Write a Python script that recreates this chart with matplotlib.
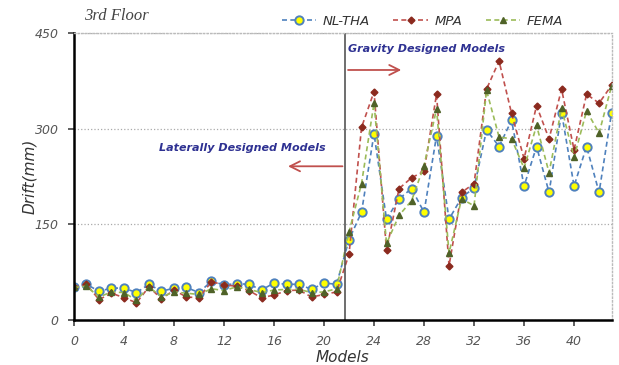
import numpy as np
from matplotlib import pyplot as plt

models = np.arange(44)

# Drift (mm) per model
nl_tha = [51, 56, 45, 50, 50, 43, 56, 45, 50, 51, 43, 61, 55, 57, 56, 47, 58, 56, 56, 48,
          58, 56, 126, 169, 292, 158, 190, 206, 169, 289, 158, 192, 207, 298, 272, 313,
          210, 272, 200, 325, 210, 272, 200, 325]
mpa = [51, 56, 32, 42, 35, 27, 52, 33, 47, 36, 35, 60, 55, 53, 46, 35, 39, 46, 47, 36,
       40, 44, 103, 302, 358, 109, 206, 223, 233, 354, 85, 200, 214, 362, 406, 324,
       253, 336, 284, 362, 267, 354, 340, 368]
fema = [51, 53, 36, 44, 43, 31, 52, 36, 44, 42, 40, 49, 46, 52, 48, 43, 47, 48, 48, 43,
        44, 49, 138, 214, 340, 120, 164, 187, 242, 331, 105, 190, 179, 360, 287, 284,
        238, 305, 231, 332, 255, 328, 293, 367]

split_x = 21.7

fig = plt.figure(figsize=(6.19, 3.65), dpi=100)
ax = fig.add_axes([0.1195, 0.1233, 0.8685, 0.7863])

ax.plot(models, nl_tha, '--', color='#4f81bd', lw=1.2, marker='o', ms=6,
        mfc='#ffff00', mec='#4f81bd', mew=1.4, label='NL-THA', dashes=(3, 2))
ax.plot(models, mpa, '--', color='#c0504d', lw=1.2, marker='D', ms=3.5,
        mfc='#8b2a1e', mec='#8b2a1e', label='MPA', dashes=(3, 2))
ax.plot(models, fema, '--', color='#9bbb59', lw=1.2, marker='^', ms=4.5,
        mfc='#4f6228', mec='#4f6228', label='FEMA', dashes=(3, 2))

ax.axvline(split_x, color='#555555', lw=1.2)

ax.set_xlim(0, 43)
ax.set_ylim(0, 450)
ax.set_xticks(np.arange(0, 41, 4))
ax.set_yticks([0, 150, 300, 450])
ax.yaxis.grid(True, ls=':', color='#aaaaaa', lw=0.9)
ax.set_axisbelow(True)

for s in ['left', 'bottom']:
    ax.spines[s].set_color('black')
    ax.spines[s].set_linewidth(1.8)
for s in ['top', 'right']:
    ax.spines[s].set_color('#bbbbbb')
    ax.spines[s].set_linewidth(1.0)
    ax.spines[s].set_linestyle(':')

ax.tick_params(axis='both', direction='out', length=4, width=1.2, color='#444444',
               labelsize=9, labelcolor='#555555', pad=7)
for lab in ax.get_xticklabels() + ax.get_yticklabels():
    lab.set_fontstyle('italic')

ax.set_xlabel('Models', fontsize=11, fontstyle='italic', color='#333333', labelpad=1)
ax.set_ylabel('Drift(mm)', fontsize=11, fontstyle='italic', color='#333333', labelpad=-2)

fig.text(0.135, 0.955, '3rd Floor', fontsize=12, fontstyle='italic',
         family='Liberation Serif', color='#444444', va='center')

ax.text(13.5, 270, 'Laterally Designed Models', fontsize=8, fontstyle='italic',
        fontweight='bold', color='#2e3192', ha='center', va='center')
ax.text(21.95, 425, 'Gravity Designed Models', fontsize=8, fontstyle='italic',
        fontweight='bold', color='#2e3192', ha='left', va='center')
ax.annotate('', xy=(16.9, 241), xytext=(split_x, 241),
            arrowprops=dict(arrowstyle='->', color='#c0504d', lw=1.3, mutation_scale=18))
ax.annotate('', xy=(26.4, 392), xytext=(split_x, 392),
            arrowprops=dict(arrowstyle='->', color='#c0504d', lw=1.3, mutation_scale=18))

leg = ax.legend(loc='lower right', bbox_to_anchor=(0.925, 0.99), ncol=3, frameon=False,
                fontsize=9.5, handlelength=2.6, handletextpad=0.5, columnspacing=1.8,
                borderaxespad=0.2)
for t in leg.get_texts():
    t.set_fontstyle('italic')
    t.set_color('#333333')

fig.savefig('out.png', dpi=100)
